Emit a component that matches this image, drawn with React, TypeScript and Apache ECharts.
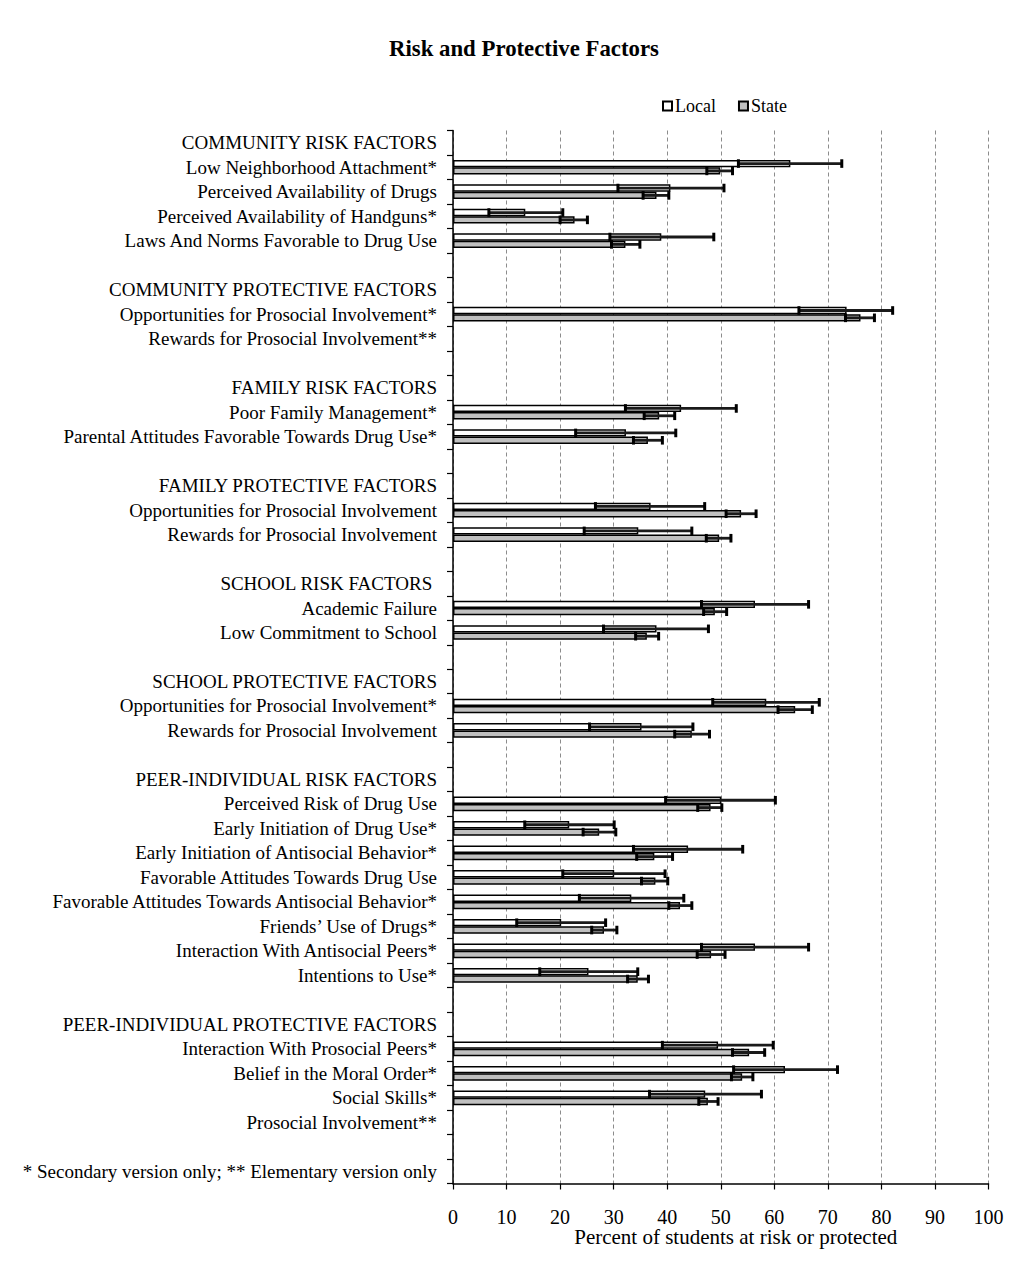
import React, { useEffect, useRef } from "react";
import * as echarts from "echarts";

const _ = null;

const rowLabels: string[] = [
  "COMMUNITY RISK FACTORS",
  "Low Neighborhood Attachment*",
  "Perceived Availability of Drugs",
  "Perceived Availability of Handguns*",
  "Laws And Norms Favorable to Drug Use",
  "",
  "COMMUNITY PROTECTIVE FACTORS",
  "Opportunities for Prosocial Involvement*",
  "Rewards for Prosocial Involvement**",
  "",
  "FAMILY RISK FACTORS",
  "Poor Family Management*",
  "Parental Attitudes Favorable Towards Drug Use*",
  "",
  "FAMILY PROTECTIVE FACTORS",
  "Opportunities for Prosocial Involvement",
  "Rewards for Prosocial Involvement",
  "",
  "SCHOOL RISK FACTORS ",
  "Academic Failure",
  "Low Commitment to School",
  "",
  "SCHOOL PROTECTIVE FACTORS",
  "Opportunities for Prosocial Involvement*",
  "Rewards for Prosocial Involvement",
  "",
  "PEER-INDIVIDUAL RISK FACTORS",
  "Perceived Risk of Drug Use",
  "Early Initiation of Drug Use*",
  "Early Initiation of Antisocial Behavior*",
  "Favorable Attitudes Towards Drug Use",
  "Favorable Attitudes Towards Antisocial Behavior*",
  "Friends\u2019 Use of Drugs*",
  "Interaction With Antisocial Peers*",
  "Intentions to Use*",
  "",
  "PEER-INDIVIDUAL PROTECTIVE FACTORS",
  "Interaction With Prosocial Peers*",
  "Belief in the Moral Order*",
  "Social Skills*",
  "Prosocial Involvement**",
  "",
  "* Secondary version only; ** Elementary version only",
];

// one entry per row above (null = header / blank / no data)
const localValues = [
  _, 63.0, 40.6, 13.5, 38.9, _,
  _, 73.5, _, _,
  _, 42.6, 32.3, _,
  _, 36.9, 34.6, _,
  _, 56.4, 38.0, _,
  _, 58.5, 35.2, _,
  _, 50.1, 21.7, 43.9, 30.1, 33.3, 20.2, 56.4, 25.3, _,
  _, 49.5, 62.0, 47.1, _, _,
  _,
];
const localLow = [
  _, 53.3, 30.8, 6.7, 29.3, _,
  _, 64.6, _, _,
  _, 32.2, 22.9, _,
  _, 26.6, 24.5, _,
  _, 46.4, 28.1, _,
  _, 48.5, 25.5, _,
  _, 39.7, 13.4, 33.7, 20.5, 23.6, 11.9, 46.4, 16.2, _,
  _, 39.1, 52.4, 36.7, _, _,
  _,
];
const localHigh = [
  _, 72.6, 50.6, 20.5, 48.7, _,
  _, 82.1, _, _,
  _, 52.9, 41.6, _,
  _, 47.0, 44.6, _,
  _, 66.4, 47.7, _,
  _, 68.4, 44.8, _,
  _, 60.2, 30.1, 54.1, 39.6, 43.1, 28.5, 66.4, 34.5, _,
  _, 59.8, 71.8, 57.6, _, _,
  _,
];
const stateValues = [
  _, 49.9, 38.0, 22.7, 32.2, _,
  _, 76.1, _, _,
  _, 38.5, 36.4, _,
  _, 53.8, 49.7, _,
  _, 48.9, 36.2, _,
  _, 63.9, 44.6, _,
  _, 48.1, 27.3, 37.6, 37.8, 42.4, 28.2, 48.2, 34.5, _,
  _, 55.3, 54.0, 47.6, _, _,
  _,
];
const stateLow = [
  _, 47.4, 35.5, 20.0, 29.6, _,
  _, 73.3, _, _,
  _, 35.7, 33.7, _,
  _, 51.0, 47.3, _,
  _, 46.8, 34.1, _,
  _, 60.7, 41.4, _,
  _, 45.7, 24.3, 34.3, 35.2, 40.3, 25.9, 45.6, 32.6, _,
  _, 52.2, 52.0, 45.9, _, _,
  _,
];
const stateHigh = [
  _, 52.2, 40.3, 25.1, 34.9, _,
  _, 78.7, _, _,
  _, 41.4, 39.1, _,
  _, 56.6, 51.9, _,
  _, 51.1, 38.4, _,
  _, 67.1, 47.9, _,
  _, 50.2, 30.4, 41.0, 40.1, 44.6, 30.6, 50.8, 36.5, _,
  _, 58.2, 56.0, 49.5, _, _,
  _,
];

const xTicks = [0, 10, 20, 30, 40, 50, 60, 70, 80, 90, 100];

const FONT = "'Liberation Serif', 'Times New Roman', serif";

function errData(lo: (number | null)[], hi: (number | null)[]) {
  const out: any[] = [];
  lo.forEach((l, i) => {
    const h = hi[i];
    if (l != null && h != null) out.push([i, l, h]);
  });
  return out;
}

function makeErrRender(offsetSign: number) {
  return (params: any, api: any) => {
    const idx = api.value(0);
    const lo = api.coord([api.value(1), idx]);
    const hi = api.coord([api.value(2), idx]);
    const band = api.size([0, 1])[1];
    const y = lo[1] + offsetSign * band * 0.15;
    const cap = 4.3;
    return {
      type: "group",
      children: [
        {
          type: "line",
          shape: { x1: lo[0], y1: y, x2: hi[0], y2: y },
          style: { stroke: "#1a1a1a", lineWidth: 2.8 },
        },
        {
          type: "line",
          shape: { x1: lo[0], y1: y - cap, x2: lo[0], y2: y + cap },
          style: { stroke: "#000", lineWidth: 3 },
        },
        {
          type: "line",
          shape: { x1: hi[0], y1: y - cap, x2: hi[0], y2: y + cap },
          style: { stroke: "#000", lineWidth: 3 },
        },
      ],
    };
  };
}

export default function App() {
  const ref = useRef<HTMLDivElement>(null);
  useEffect(() => {
    if (!ref.current) return;
    const chart = echarts.init(ref.current, undefined, { renderer: "svg" });
    chart.setOption({
      animation: false,
      backgroundColor: "#fff",
      textStyle: { fontFamily: FONT, color: "#000" },
      title: {
        text: "Risk and Protective Factors",
        left: 384,
        top: 32,
        textStyle: { fontFamily: FONT, fontSize: 22.8, fontWeight: "bold", color: "#000" },
      },
      legend: {
        left: 657,
        top: 92,
        itemWidth: 9,
        itemHeight: 9,
        itemGap: 22,
        icon: "rect",
        textStyle: { fontFamily: FONT, fontSize: 18, color: "#000", padding: [0, 0, 0, -2] },
        data: ["Local", "State"],
      },
      grid: { left: 453, right: 36.5, top: 130.5, bottom: 84.5 },
      xAxis: {
        type: "value",
        min: 0,
        max: 100,
        interval: 10,
        axisLine: { show: true, lineStyle: { color: "#000", width: 1.5 } },
        axisTick: { show: true, length: 6, lineStyle: { color: "#000", width: 1.2 } },
        axisLabel: {
          fontFamily: FONT,
          fontSize: 20,
          color: "#000",
          margin: 23,
          formatter: (v: number) => (xTicks.includes(v) ? String(v) : ""),
        },
        splitLine: { show: true, lineStyle: { color: "#8c8c8c", type: [4, 3], width: 1 } },
        name: "Percent of students at risk or protected",
        nameLocation: "middle",
        nameGap: 43,
        nameMoveOverlap: false,
        nameTextStyle: { fontFamily: FONT, fontSize: 21, color: "#000", padding: [0, 0, 0, 30] },
      },
      yAxis: {
        type: "category",
        inverse: true,
        data: rowLabels,
        axisLine: { show: true, lineStyle: { color: "#000", width: 1.5 } },
        axisTick: { show: true, length: 6, lineStyle: { color: "#000", width: 1.2 } },
        axisLabel: {
          interval: 0,
          fontFamily: FONT,
          fontSize: 19,
          color: "#000",
          margin: 16,
        },
        splitLine: { show: false },
      },
      series: [
        {
          name: "Local",
          type: "bar",
          data: localValues,
          barGap: "0%",
          barCategoryGap: "40%",
          itemStyle: { color: "#ffffff", borderColor: "#000", borderWidth: 1.5 },
          z: 2,
        },
        {
          name: "State",
          type: "bar",
          data: stateValues,
          barGap: "0%",
          barCategoryGap: "40%",
          itemStyle: { color: "#c0c0c0", borderColor: "#000", borderWidth: 1.5 },
          z: 2,
        },
        {
          name: "Local error",
          type: "custom",
          data: errData(localLow, localHigh),
          encode: { x: [1, 2], y: 0 },
          renderItem: makeErrRender(-1),
          z: 5,
          clip: false,
        },
        {
          name: "State error",
          type: "custom",
          data: errData(stateLow, stateHigh),
          encode: { x: [1, 2], y: 0 },
          renderItem: makeErrRender(1),
          z: 5,
          clip: false,
        },
      ],
    });
    return () => chart.dispose();
  }, []);
  return (
    <div
      ref={ref}
      style={{ position: "absolute", left: 0, top: 0, width: 1025, height: 1268, background: "#fff" }}
    />
  );
}
